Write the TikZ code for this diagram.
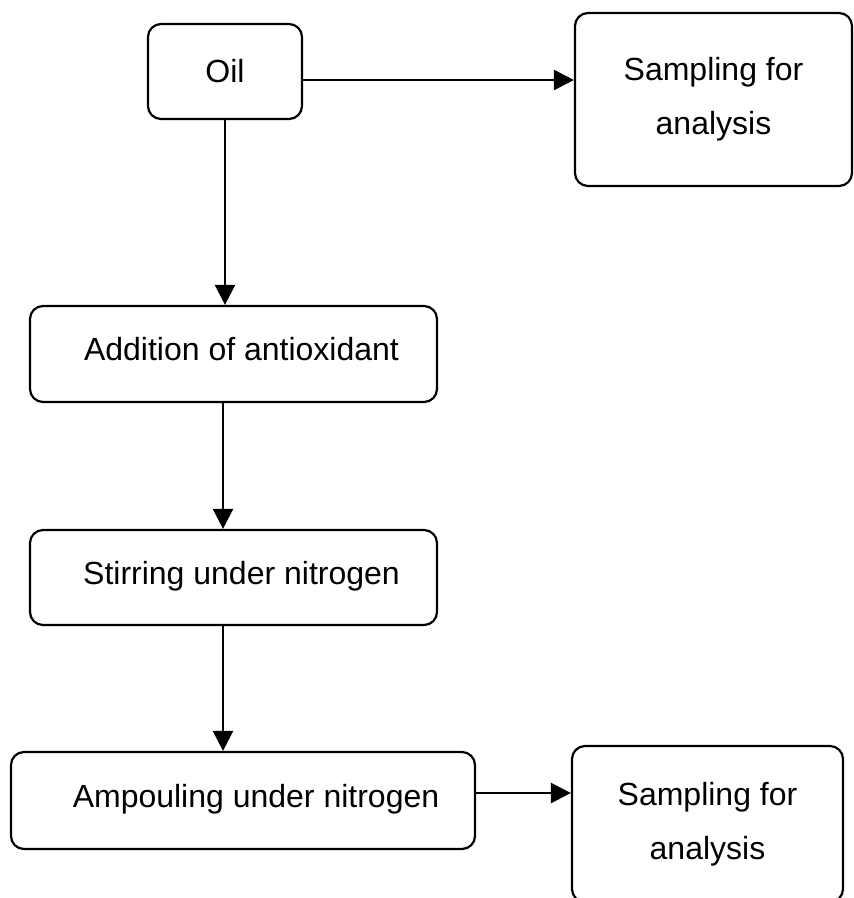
\documentclass[tikz,border=0pt]{standalone}
\usepackage{fontspec}
\setmainfont{Liberation Sans}
\usetikzlibrary{arrows.meta}
\tikzset{
  box/.style={draw, line width=2.2pt, rounded corners=13pt, inner sep=0pt,
    font=\fontsize{32}{54}\selectfont, align=center},
  arr/.style={line width=2.4pt, -{Triangle[length=20pt,width=20pt]}}
}
\begin{document}
\begin{tikzpicture}[x=1pt,y=-1pt]
\useasboundingbox (0,0) rectangle (854,898);
\clip (0,0) rectangle (854,898);
\node[box, minimum width=154pt, minimum height=95pt] (oil) at (225,71.5) {Oil};
\node[box, minimum width=277pt, minimum height=173pt] (samp1) at (713.5,99.5) {Sampling for\\analysis};
\node[box, minimum width=407pt, minimum height=96pt, text depth=10pt] (add) at (233.5,354) {\hspace{16pt}Addition of antioxidant};
\node[box, minimum width=407pt, minimum height=95pt, text depth=10pt] (stir) at (233.5,577.5) {\hspace{16pt}Stirring under nitrogen};
\node[box, minimum width=464pt, minimum height=97pt, text depth=10pt] (amp) at (243,800.5) {\hspace{26pt}Ampouling under nitrogen};
\node[box, minimum width=271pt, minimum height=156pt] (samp2) at (707.5,824) {Sampling for\hspace{20pt}\\analysis\hspace{20pt}};
\draw[arr] ([yshift=-8.5pt]oil.east) -- ([yshift=-8.5pt]oil.east -| samp1.west);
\draw[arr] (oil.south) -- (oil.south |- add.north);
\draw[arr] ([xshift=-10.5pt]add.south) -- ([xshift=-10.5pt]add.south |- stir.north);
\draw[arr] ([xshift=-10.5pt]stir.south) -- ([xshift=-10.5pt]stir.south |- amp.north);
\draw[arr] ([yshift=7.5pt]amp.east) -- ([yshift=7.5pt]amp.east -| samp2.west);
\end{tikzpicture}
\end{document}
